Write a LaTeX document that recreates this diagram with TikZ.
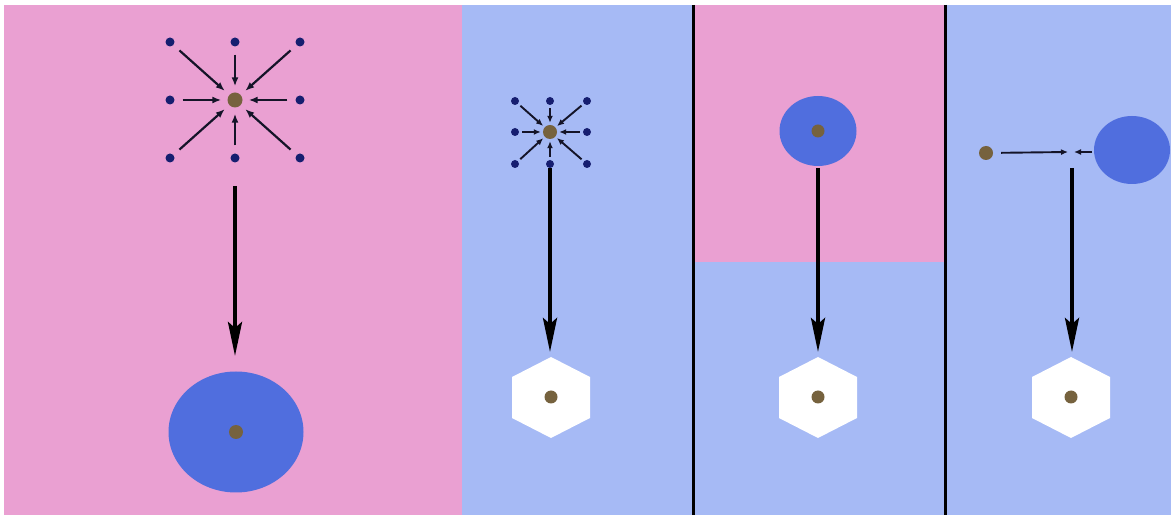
\documentclass[tikz,border=0pt]{standalone}
\usetikzlibrary{arrows.meta,shapes.geometric}
\definecolor{pinkbg}{RGB}{234,160,210}
\definecolor{bluebg}{RGB}{166,186,245}
\definecolor{blob}{RGB}{80,110,222}
\definecolor{navy}{RGB}{22,30,112}
\definecolor{core}{RGB}{118,98,62}
\definecolor{ink}{RGB}{20,20,40}
\tikzset{
  outerdot/.style={circle,fill=navy,inner sep=0pt,minimum size=9pt},
  coredot/.style={circle,fill=core,inner sep=0pt,minimum size=13pt},
  smallcore/.style={circle,fill=core,inner sep=0pt,minimum size=12pt},
  blobshape/.style={ellipse,fill=blob,inner sep=0pt},
  thin arrow/.style={-{Latex[length=9pt,width=7pt]},line width=2.2pt,ink,shorten <=8pt,shorten >=6pt},
  small arrow/.style={-{Latex[length=7pt,width=6pt]},line width=1.9pt,ink,shorten <=3pt,shorten >=2pt},
  big arrow/.style={-{Stealth[length=34pt,width=14pt,inset=6pt]},line width=4pt,black},
  divider/.style={line width=3pt,black}
}
\begin{document}
\begin{tikzpicture}[x=1pt,y=-1pt]
\useasboundingbox (0,0) rectangle (1171,518);
\fill[white] (0,0) rectangle (1171,518);
% backgrounds
\fill[pinkbg] (4,5) rectangle (462,515);
\fill[bluebg] (462,5) rectangle (693,515);
\fill[pinkbg] (693,5) rectangle (945,262);
\fill[bluebg] (693,262) rectangle (945,515);
\fill[bluebg] (945,5) rectangle (1171,515);
\draw[divider] (693,5) -- (693,515);
\draw[divider] (945,5) -- (945,515);

% ---------- panel 1 ----------
\node[coredot,minimum size=15pt] (c1) at (235,100) {};
\foreach \n/\x/\y in {a/170/42,b/235/42,c/300/42,d/170/100,e/300/100,f/170/158,g/235/158,h/300/158}{
  \node[outerdot] (p1\n) at (\x,\y) {};
  \draw[thin arrow] (p1\n) -- (c1);
}
\coordinate (s1) at (235,186);
\node[blobshape,minimum width=135pt,minimum height=121pt] (b1) at (236,432) {};
\node[coredot,minimum size=14pt] (d1) at (236,432) {};
\coordinate (t1) at (235,356);
\draw[big arrow] (s1) -- (t1);

% ---------- panel 2 ----------
\node[smallcore,minimum size=14pt] (c2) at (550,132) {};
\foreach \n/\x/\y in {a/515/101,b/550/101,c/587/101,d/515/132,e/587/132,f/515/164,g/550/164,h/587/164}{
  \node[outerdot,minimum size=8pt] (p2\n) at (\x,\y) {};
  \draw[small arrow] (p2\n) -- (c2);
}
\fill[white] (551,357) -- (590,377) -- (590,418) -- (551,438) -- (512,418) -- (512,377) -- cycle;
\node[coredot,minimum size=13pt] (d2) at (551,397) {};
\coordinate (s2) at (550,168);
\coordinate (t2) at (550,352);
\draw[big arrow] (s2) -- (t2);

% ---------- panel 3 ----------
\node[blobshape,minimum width=77pt,minimum height=70pt] (b3) at (818,131) {};
\node[smallcore,minimum size=13pt] (c3) at (818,131) {};
\fill[white] (818,357) -- (857,377) -- (857,418) -- (818,438) -- (779,418) -- (779,377) -- cycle;
\node[coredot,minimum size=13pt] (d3) at (818,397) {};
\coordinate (s3) at (818,168);
\coordinate (t3) at (818,352);
\draw[big arrow] (s3) -- (t3);

% ---------- panel 4 ----------
\node[smallcore,minimum size=14pt] (c4) at (986,153) {};
\node[blobshape,minimum width=76pt,minimum height=68pt] (b4) at (1132,150) {};
\coordinate (m4a) at (1068,152);
\coordinate (m4b) at (1074,152);
\coordinate (q4) at (1092,152);
\draw[small arrow,shorten <=8pt,shorten >=0pt] (c4) -- (m4a);
\draw[small arrow,shorten <=0pt,shorten >=0pt] (q4) -- (m4b);
\fill[white] (1071,357) -- (1110,377) -- (1110,418) -- (1071,438) -- (1032,418) -- (1032,377) -- cycle;
\node[coredot,minimum size=13pt] (d4) at (1071,397) {};
\coordinate (s4) at (1072,168);
\coordinate (t4) at (1072,352);
\draw[big arrow] (s4) -- (t4);
\end{tikzpicture}
\end{document}
